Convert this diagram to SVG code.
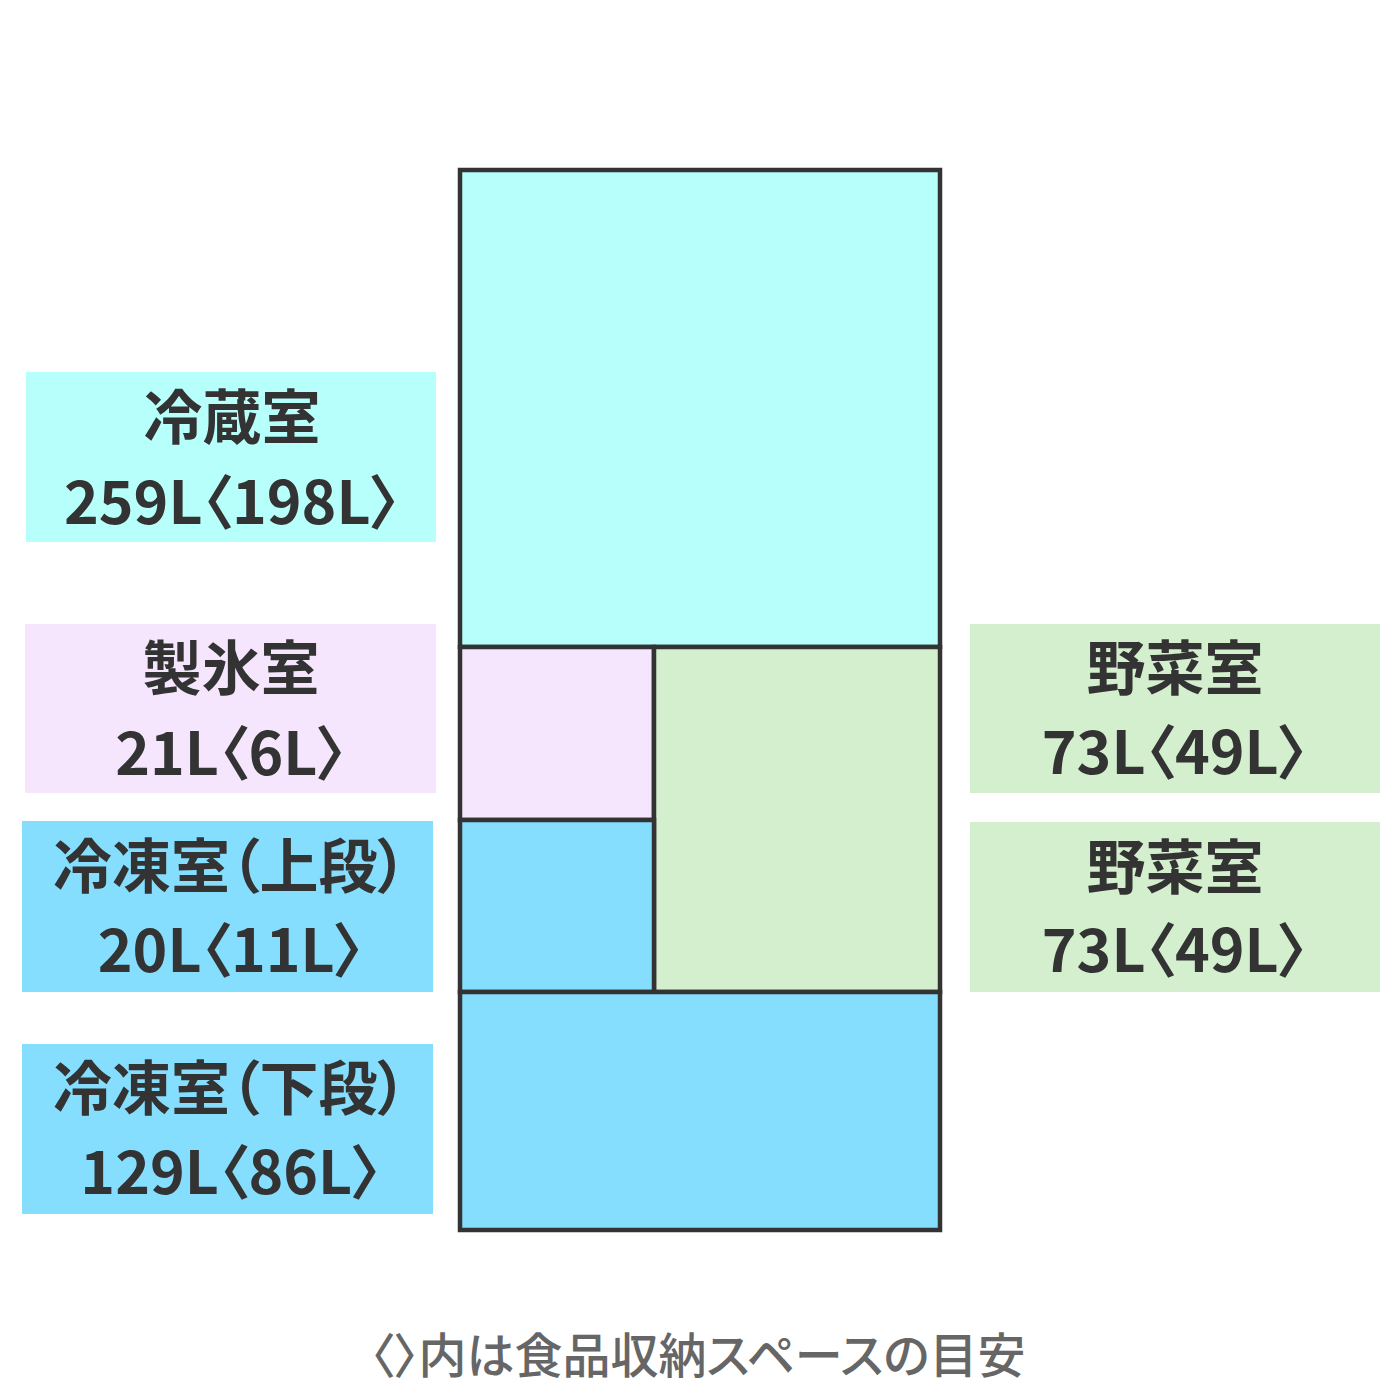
<svg xmlns="http://www.w3.org/2000/svg" width="1400" height="1400" viewBox="0 0 1400 1400">
<style>
.lbl{font-family:"Noto Sans CJK JP","Noto Sans",sans-serif;font-weight:700;font-size:59px;fill:#333;text-anchor:middle;font-feature-settings:"palt"}
.note{font-family:"Noto Sans CJK JP","Noto Sans",sans-serif;font-weight:500;font-size:48px;fill:#666;text-anchor:middle;font-feature-settings:"palt"}
.cmp{stroke:#333;stroke-width:4.5}
</style>
<rect width="1400" height="1400" fill="#fff"/>
<g id="fridge">
<rect class="cmp" x="460" y="170" width="480" height="477" fill="#B6FFFB"/>
<rect class="cmp" x="460" y="647" width="194" height="173" fill="#F5E5FD"/>
<rect class="cmp" x="654" y="647" width="286" height="345" fill="#D3EFCE"/>
<rect class="cmp" x="460" y="820" width="194" height="172" fill="#86DEFF"/>
<rect class="cmp" x="460" y="992" width="480" height="238" fill="#86DEFF"/>
</g>
<g id="label-reizou">
<rect x="26" y="372" width="410" height="170" fill="#B6FFFB"/>
<text class="lbl" x="232" y="439">冷蔵室</text>
<text class="lbl" x="232" y="524">259L〈198L〉</text>
</g>
<g id="label-seihyou">
<rect x="25" y="624" width="411" height="169" fill="#F5E5FD"/>
<text class="lbl" x="231" y="690">製氷室</text>
<text class="lbl" x="231" y="775">21L〈6L〉</text>
</g>
<g id="label-reitou-upper">
<rect x="22" y="821" width="411" height="171" fill="#86DEFF"/>
<text class="lbl" x="230" y="888">冷凍室（上段）</text>
<text class="lbl" x="231" y="972">20L〈11L〉</text>
</g>
<g id="label-reitou-lower">
<rect x="22" y="1044" width="411" height="170" fill="#86DEFF"/>
<text class="lbl" x="230" y="1110">冷凍室（下段）</text>
<text class="lbl" x="231" y="1194">129L〈86L〉</text>
</g>
<g id="label-yasai-1">
<rect x="970" y="624" width="410" height="169" fill="#D3EFCE"/>
<text class="lbl" x="1175" y="690">野菜室</text>
<text class="lbl" x="1175" y="774">73L〈49L〉</text>
</g>
<g id="label-yasai-2">
<rect x="970" y="822" width="410" height="170" fill="#D3EFCE"/>
<text class="lbl" x="1175" y="889">野菜室</text>
<text class="lbl" x="1175" y="972">73L〈49L〉</text>
</g>
<g id="connectors"></g>
<text class="note" x="698" y="1373">〈〉内は食品収納スペースの目安</text>
</svg>
